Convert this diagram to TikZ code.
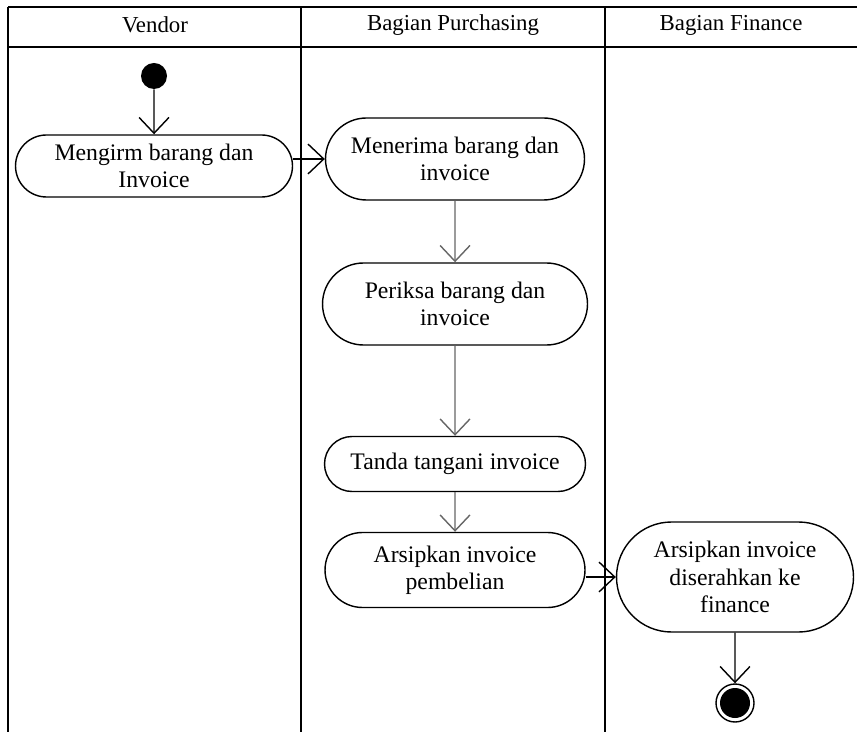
\documentclass[tikz,border=0pt]{standalone}
\usepackage{fontspec}
\setmainfont{Liberation Serif}
\usetikzlibrary{arrows.meta,shapes.misc}

\begin{document}
\begin{tikzpicture}[x=0.02cm,y=-0.02cm,
    act/.style={draw, thick, rounded rectangle, align=center, inner sep=2pt,
      font=\fontsize{13.5}{15.5}\selectfont},
    flow/.style={thick, -{Straight Barb[length=9pt,width=17pt]}},
    lane/.style={font=\fontsize{13}{15}\selectfont}]
  \useasboundingbox (0,0) rectangle (857,732);
  % swimlanes
  \draw[thick] (8,7) -- (857,7) (8,47) -- (857,47);
  \draw[thick] (8,7) -- (8,732) (301,7) -- (301,732) (605,7) -- (605,732);
  \node[lane] (vendor) at (155,25) {Vendor};
  \node[lane] (purch) at (453,25) {Bagian Purchasing};
  \node[lane] (fin) at (731,25) {Bagian Finance};

  \node[circle, fill=black, minimum size=26*0.02cm, inner sep=0pt] (start) at (154,76) {};
  \node[act, minimum width=284*0.02cm, minimum height=62*0.02cm] (kirim) at (154,166) {Mengirm barang dan\\Invoice};
  \node[act, minimum width=266*0.02cm, minimum height=82*0.02cm] (terima) at (455,159) {Menerima barang dan\\invoice};
  \node[act, minimum width=272*0.02cm, minimum height=82*0.02cm] (periksa) at (455,304) {Periksa barang dan\\invoice};
  \node[act, minimum width=268*0.02cm, minimum height=55*0.02cm] (tanda) at (455,464) {Tanda tangani invoice};
  \node[act, minimum width=267*0.02cm, minimum height=75*0.02cm] (arsip) at (455,570) {Arsipkan invoice\\pembelian};
  \node[act, minimum width=244*0.02cm, minimum height=110*0.02cm] (serah) at (735,577) {Arsipkan invoice\\diserahkan ke\\finance};
  \node[circle, draw, thick, minimum size=38*0.02cm, inner sep=0pt] (end) at (735,703) {};
  \node[circle, fill=black, minimum size=30*0.02cm, inner sep=0pt] at (end) {};

  \draw[flow] (start) -- (kirim);
  \draw[flow] (kirim.east |- terima.west) -- (terima.west);
  \draw[flow, black!60] (terima) -- (periksa);
  \draw[flow, black!60] (periksa) -- (tanda);
  \draw[flow, black!60] (tanda) -- (arsip);
  \draw[flow] (arsip.east |- serah.west) -- (serah.west);
  \draw[flow] (serah) -- (end);
\end{tikzpicture}
\end{document}
